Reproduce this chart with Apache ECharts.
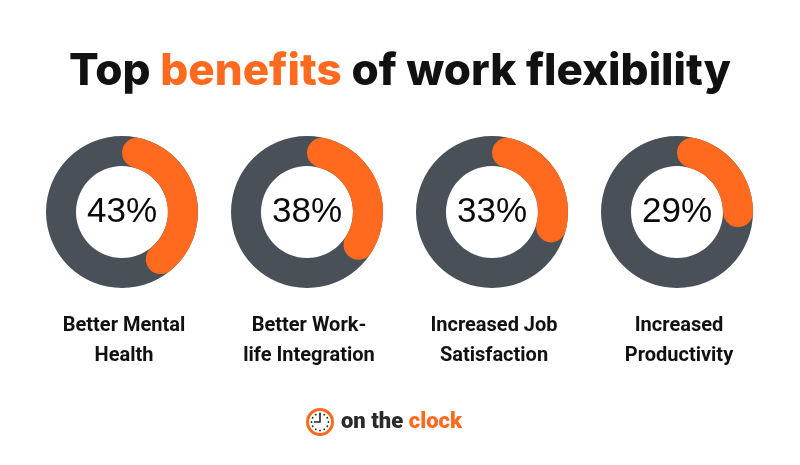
<!DOCTYPE html>
<html>
<head>
<meta charset="utf-8">
<script src="https://cdn.jsdelivr.net/npm/echarts@6/dist/echarts.min.js"></script>
<style>
  html, body { margin: 0; padding: 0; background: #ffffff; }
  #chart { width: 800px; height: 465px; }
</style>
</head>
<body>
<div id="chart"></div>
<script>
// Share of respondents naming each benefit
const categories = [
  'Better Mental\nHealth',
  'Better Work-\nlife Integration',
  'Increased Job\nSatisfaction',
  'Increased\nProductivity'
];
const values = [43, 38, 33, 29];

const ORANGE = '#FF6A1F';
const SLATE = '#4A5058';
const centersX = [122, 307, 492, 677];
const centerY = 212;
const radius = [46, 76];

const series = [];
const graphics = [];

values.forEach(function (v, i) {
  // full slate ring underneath
  series.push({
    type: 'pie',
    center: [centersX[i], centerY],
    radius: radius,
    silent: true,
    label: { show: false },
    itemStyle: { color: SLATE },
    data: [{ value: 100, name: 'base' }]
  });
  // orange share with rounded ends
  series.push({
    type: 'pie',
    center: [centersX[i], centerY],
    radius: radius,
    startAngle: 90,
    clockwise: true,
    silent: true,
    itemStyle: { borderRadius: 15 },
    data: [
      {
        value: v,
        name: categories[i],
        itemStyle: { color: ORANGE, borderRadius: 15 },
        label: {
          show: true,
          position: 'center',
          formatter: '{c}%',
          fontFamily: '"Liberation Sans", Arial, sans-serif',
          fontSize: 35,
          fontWeight: 400,
          color: '#0a0a0a'
        }
      },
      {
        value: 100 - v,
        name: 'rest',
        itemStyle: { color: 'transparent' },
        label: { show: false }
      }
    ]
  });
  graphics.push({
    type: 'text',
    x: centersX[i] + 2,
    y: 311,
    style: {
      text: categories[i],
      textAlign: 'center',
      fontFamily: 'Roboto, sans-serif',
      fontWeight: 'bold',
      fontSize: 20,
      lineHeight: 30,
      fill: '#111111'
    }
  });
});

// headline
graphics.push({
  type: 'text',
  x: 400,
  y: 50,
  style: {
    text: '{a|Top }{b|benefits}{a| of work flexibility}',
    textAlign: 'center',
    rich: {
      a: { fontFamily: 'Inter', fontWeight: 800, fontSize: 44, fill: '#111111', color: '#111111' },
      b: { fontFamily: 'Inter', fontWeight: 800, fontSize: 44, fill: ORANGE, color: ORANGE }
    }
  }
});

// brand mark: clock face
const cx = 320, cy = 422;
graphics.push({
  type: 'circle',
  shape: { cx: cx, cy: cy, r: 12.5 },
  style: { fill: '#ffffff', stroke: ORANGE, lineWidth: 3 }
});
for (let k = 0; k < 12; k++) {
  const a = k * Math.PI / 6;
  graphics.push({
    type: 'circle',
    shape: { cx: cx + Math.sin(a) * 8.5, cy: cy - Math.cos(a) * 8.5, r: 0.9 },
    style: { fill: '#222222' }
  });
}
graphics.push({
  type: 'polyline',
  shape: { points: [[cx, cy - 8], [cx, cy], [cx - 6, cy]] },
  style: { stroke: '#222222', lineWidth: 1.6, fill: null }
});
graphics.push({
  type: 'text',
  x: 341,
  y: 411,
  style: {
    text: '{a|on the }{b|clock}',
    rich: {
      a: { fontFamily: 'Roboto', fontWeight: 900, fontSize: 22, fill: '#2a2a2a', color: '#2a2a2a' },
      b: { fontFamily: 'Roboto', fontWeight: 900, fontSize: 22, fill: ORANGE, color: ORANGE }
    }
  }
});

const chart = echarts.init(document.getElementById('chart'), null, { renderer: 'canvas' });
chart.setOption({
  backgroundColor: '#ffffff',
  animation: false,
  series: series,
  graphic: graphics
});
</script>
</body>
</html>
